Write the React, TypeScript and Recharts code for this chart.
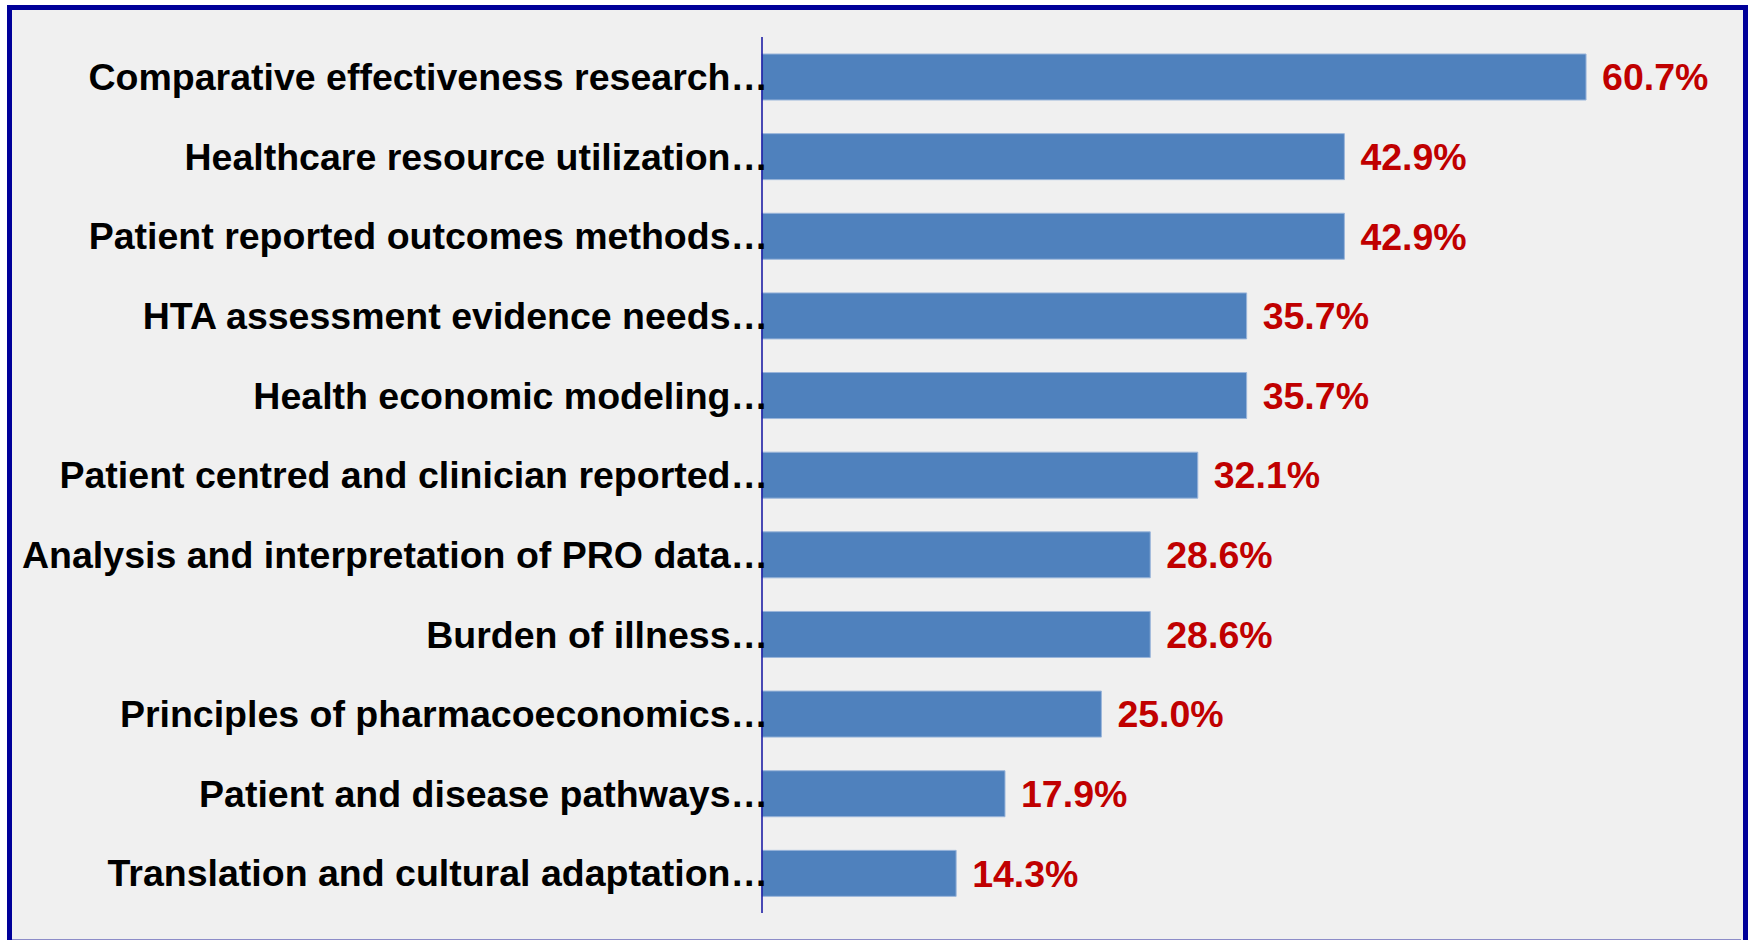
import React from "react";
import { BarChart, Bar, XAxis, YAxis, LabelList } from "recharts";

const categories = [
  "Comparative effectiveness research…",
  "Healthcare resource utilization…",
  "Patient reported outcomes methods…",
  "HTA assessment evidence needs…",
  "Health economic modeling…",
  "Patient centred and clinician reported…",
  "Analysis and interpretation of PRO data…",
  "Burden of illness…",
  "Principles of pharmacoeconomics…",
  "Patient and disease pathways…",
  "Translation and cultural adaptation…",
];

const values = [60.7, 42.9, 42.9, 35.7, 35.7, 32.1, 28.6, 28.6, 25.0, 17.9, 14.3];

const data = categories.map((name, i) => ({ name, value: values[i] }));

const FONT = "'Liberation Sans', Arial, Helvetica, sans-serif";

export default function App() {
  return (
    <div
      style={{
        position: "fixed",
        left: 0,
        top: 0,
        width: 1748,
        height: 940,
        overflow: "hidden",
        background: "#ffffff",
      }}
    >
      <div
        style={{
          position: "absolute",
          left: 7,
          top: 5,
          width: 1731,
          height: 960,
          border: "5px solid #000099",
          background: "#f0f0f0",
        }}
      />
      <div
        style={{
          position: "absolute",
          left: 12,
          top: 939,
          width: 1729,
          height: 1,
          background: "#8c8cc8",
        }}
      />
      <div style={{ position: "absolute", left: 0, top: 0 }}>
        <BarChart
          width={1748}
          height={940}
          data={data}
          layout="vertical"
          margin={{ top: 37, right: 33, bottom: 27, left: 0 }}
        >
          <XAxis type="number" domain={[0, 70.2]} hide />
          <YAxis
            type="category"
            dataKey="name"
            width={762}
            tickLine={false}
            tickSize={0}
            tickMargin={-6}
            axisLine={{ stroke: "#1010a0", strokeWidth: 1.5 }}
            tick={{
              fill: "#000000",
              fontFamily: FONT,
              fontWeight: 700,
              fontSize: 37.5,
            }}
            interval={0}
          />
          <Bar
            dataKey="value"
            fill="#4f81bd"
            stroke="#9ab5da"
            strokeWidth={1}
            barSize={46}
            isAnimationActive={false}
          >
            <LabelList
              dataKey="value"
              position="right"
              offset={16}
              formatter={(v: number) => `${v.toFixed(1)}%`}
              style={{
                fill: "#c00000",
                fontFamily: FONT,
                fontWeight: 700,
                fontSize: 37.5,
              }}
            />
          </Bar>
        </BarChart>
      </div>
    </div>
  );
}
